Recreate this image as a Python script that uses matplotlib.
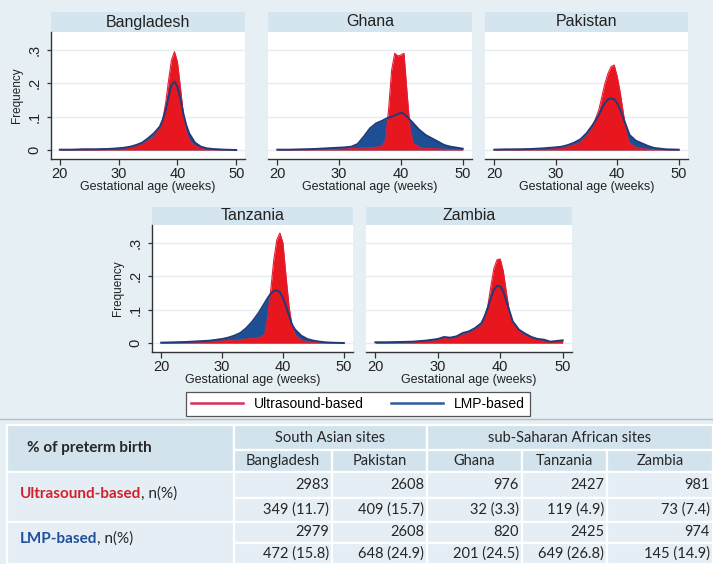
import matplotlib.pyplot as plt
from matplotlib.lines import Line2D
from matplotlib.patches import Rectangle

W, H = 713, 564

# gestational age grid (weeks) and density
weeks = [20, 22, 24, 26, 28, 30, 31, 32, 33, 34, 35, 36, 37, 37.5, 38, 38.5, 39,
         39.5, 40, 40.5, 41, 41.5, 42, 43, 44, 45, 46, 47, 48, 50]

bangladesh_us = [0.001, 0.001, 0.002, 0.002, 0.003, 0.005, 0.006, 0.008, 0.012, 0.018,
                 0.027, 0.04, 0.065, 0.09, 0.14, 0.21, 0.27, 0.295, 0.265, 0.19,
                 0.11, 0.055, 0.03, 0.012, 0.006, 0.003, 0.002, 0.001, 0.001, 0.0]
bangladesh_lmp = [0.001, 0.001, 0.002, 0.002, 0.003, 0.005, 0.007, 0.01, 0.015, 0.022,
                  0.035, 0.05, 0.07, 0.09, 0.12, 0.16, 0.195, 0.205, 0.19, 0.155,
                  0.11, 0.075, 0.05, 0.022, 0.01, 0.005, 0.003, 0.002, 0.001, 0.0]
ghana_us = [0.001, 0.001, 0.001, 0.002, 0.002, 0.003, 0.003, 0.004, 0.005, 0.006,
            0.007, 0.008, 0.012, 0.03, 0.12, 0.24, 0.29, 0.282, 0.285, 0.29,
            0.17, 0.06, 0.02, 0.008, 0.005, 0.004, 0.003, 0.002, 0.001, 0.0]
ghana_lmp = [0.001, 0.001, 0.002, 0.003, 0.005, 0.007, 0.008, 0.01, 0.018, 0.04,
             0.065, 0.08, 0.088, 0.093, 0.097, 0.1, 0.104, 0.108, 0.112, 0.108,
             0.1, 0.09, 0.08, 0.06, 0.045, 0.035, 0.025, 0.015, 0.01, 0.004]
pakistan_us = [0.001, 0.001, 0.002, 0.002, 0.003, 0.005, 0.007, 0.01, 0.015, 0.022,
               0.04, 0.07, 0.12, 0.16, 0.2, 0.23, 0.25, 0.255, 0.22, 0.17,
               0.11, 0.05, 0.02, 0.008, 0.004, 0.002, 0.001, 0.001, 0.001, 0.0]
pakistan_lmp = [0.001, 0.002, 0.002, 0.003, 0.005, 0.008, 0.01, 0.015, 0.022, 0.032,
                0.05, 0.075, 0.105, 0.125, 0.142, 0.152, 0.155, 0.152, 0.14, 0.12,
                0.095, 0.07, 0.045, 0.028, 0.02, 0.012, 0.006, 0.004, 0.002, 0.001]
tanzania_us = [0.001, 0.001, 0.002, 0.003, 0.004, 0.006, 0.007, 0.008, 0.01, 0.012,
               0.014, 0.016, 0.025, 0.08, 0.16, 0.25, 0.31, 0.33, 0.3, 0.2,
               0.11, 0.05, 0.025, 0.008, 0.004, 0.002, 0.001, 0.001, 0.001, 0.0]
tanzania_lmp = [0.001, 0.002, 0.003, 0.005, 0.007, 0.012, 0.016, 0.022, 0.03, 0.045,
                0.065, 0.09, 0.12, 0.135, 0.148, 0.156, 0.158, 0.152, 0.135, 0.11,
                0.082, 0.055, 0.04, 0.022, 0.012, 0.007, 0.004, 0.002, 0.001, 0.0]
zambia_us = [0.002, 0.002, 0.003, 0.004, 0.006, 0.01, 0.014, 0.014, 0.018, 0.025,
             0.03, 0.04, 0.055, 0.075, 0.11, 0.17, 0.225, 0.25, 0.252, 0.215,
             0.15, 0.09, 0.06, 0.035, 0.022, 0.016, 0.012, 0.009, 0.004, 0.006]
zambia_lmp = [0.002, 0.002, 0.003, 0.004, 0.007, 0.012, 0.018, 0.016, 0.02, 0.03,
              0.035, 0.045, 0.06, 0.08, 0.105, 0.135, 0.16, 0.172, 0.17, 0.155,
              0.125, 0.095, 0.065, 0.04, 0.028, 0.018, 0.012, 0.01, 0.004, 0.008]

# table values
sites = ['Bangladesh', 'Pakistan', 'Ghana', 'Tanzania', 'Zambia']
us_total = [2983, 2608, 976, 2427, 981]
us_preterm = [349, 409, 32, 119, 73]
us_pct = [11.7, 15.7, 3.3, 4.9, 7.4]
lmp_total = [2979, 2608, 820, 2425, 974]
lmp_preterm = [472, 648, 201, 649, 145]
lmp_pct = [15.8, 24.9, 24.5, 26.8, 14.9]

BG = '#e6eff4'
STRIP = '#d5e5ef'
RED = '#e8161f'
BLUE = '#1c4f94'
LINE_BLUE = '#1d3c78'

plt.rcParams['font.family'] = ['Liberation Sans', 'DejaVu Sans']

fig = plt.figure(figsize=(W / 100, H / 100), dpi=100, facecolor=BG)


def px_axes(left, top, right, bottom, **kw):
    return fig.add_axes([left / W, 1 - bottom / H, (right - left) / W, (bottom - top) / H], **kw)


# (name, us, lmp, left, right, strip top, plot top, plot bottom, show y axis)
panels = [
    ('Bangladesh', bangladesh_us, bangladesh_lmp, 51, 245, 12, 32, 159, True),
    ('Ghana', ghana_us, ghana_lmp, 268, 472, 12, 32, 159, False),
    ('Pakistan', pakistan_us, pakistan_lmp, 485, 688, 12, 32, 159, False),
    ('Tanzania', tanzania_us, tanzania_lmp, 152, 353, 207, 225, 352, True),
    ('Zambia', zambia_us, zambia_lmp, 366, 572, 207, 225, 352, False),
]

for name, us, lmp, left, right, stop, ptop, pbot, yaxis in panels:
    strip = px_axes(left, stop, right, ptop)
    strip.set_facecolor(STRIP)
    strip.set_xticks([])
    strip.set_yticks([])
    for s in strip.spines.values():
        s.set_visible(False)
    strip.text(0.5, 0.5, name, ha='center', va='center', fontsize=11.5, color='#222222',
               transform=strip.transAxes)

    ax = px_axes(left, ptop, right, pbot)
    ax.set_facecolor('white')
    ax.fill_between(weeks, 0, lmp, color=BLUE, lw=0, zorder=2)
    ax.fill_between(weeks, 0, us, color=RED, lw=0, zorder=3)
    ax.plot(weeks, us, color='#e0203a', lw=0.8, zorder=3)
    ax.plot(weeks, lmp, color=LINE_BLUE, lw=1.4, zorder=4)
    ax.set_xlim(18.5, 51.5)
    ax.set_ylim(-0.027, 0.354)
    ax.set_xticks([20, 30, 40, 50])
    ax.set_yticks([0, 0.1, 0.2, 0.3])
    ax.grid(axis='y', color='#e4edf2', lw=1.0, zorder=0)
    ax.set_axisbelow(True)
    for s in ['top', 'right']:
        ax.spines[s].set_visible(False)
    ax.spines['bottom'].set_color('#333333')
    ax.spines['bottom'].set_linewidth(1.0)
    ax.tick_params(axis='x', length=4, width=0.9, color='#333333', labelsize=10.5,
                   pad=1.5, labelcolor='#222222')
    ax.set_xlabel('Gestational age (weeks)', fontsize=9, color='#222222', labelpad=0)
    if yaxis:
        ax.spines['left'].set_color('#333333')
        ax.spines['left'].set_linewidth(1.0)
        ax.set_yticklabels(['0', '.1', '.2', '.3'], rotation=90, va='center')
        ax.tick_params(axis='y', length=3, width=0.9, color='#333333', labelsize=10.5,
                       pad=4, labelcolor='#222222')
        ax.set_ylabel('Frequency', fontsize=8.5, color='#222222', labelpad=3)
    else:
        ax.spines['left'].set_visible(False)
        ax.tick_params(axis='y', length=0, labelleft=False)

# legend
handles = [Line2D([], [], color='#dc2f55', lw=1.8), Line2D([], [], color='#2c5c9a', lw=1.8)]
leg = fig.legend(handles, ['Ultrasound-based', 'LMP-based'], loc='center',
                 bbox_to_anchor=(358 / W, 1 - 404 / H), ncol=2, fontsize=10,
                 frameon=True, fancybox=False, edgecolor='#555555', framealpha=1,
                 handlelength=3.7, handletextpad=0.8, columnspacing=2.0,
                 borderpad=0.35)
leg.get_frame().set_linewidth(0.9)

# table
tab = px_axes(0, 417, W, H)
tab.set_xlim(0, W)
tab.set_ylim(H, 417)
tab.axis('off')
tab.axhline(419, color='#b4bfc6', lw=1.0)

cols = [7, 234, 332, 427, 522, 607, 713]
rows = [425, 450, 472, 498, 522, 543, 564]
HEAD = '#d2e3ee'
BODY = '#e5eef5'
TFONT = ['Lato', 'DejaVu Sans']
TXT = '#262626'


def cell(x0, x1, y0, y1, color):
    tab.add_patch(Rectangle((x0, y0), x1 - x0, y1 - y0, facecolor=color,
                            edgecolor='white', lw=1.6))


cell(cols[0], cols[1], rows[0], rows[2], HEAD)
cell(cols[1], cols[3], rows[0], rows[1], HEAD)
cell(cols[3], cols[6], rows[0], rows[1], HEAD)
for i in range(5):
    cell(cols[i + 1], cols[i + 2], rows[1], rows[2], HEAD)
cell(cols[0], cols[1], rows[2], rows[4], BODY)
cell(cols[0], cols[1], rows[4], rows[6], BODY)
for r in range(2, 6):
    for i in range(5):
        cell(cols[i + 1], cols[i + 2], rows[r], rows[r + 1], BODY)

tab.text(27, 448, '% of preterm birth', fontsize=11, fontweight='bold', color=TXT,
         family=TFONT, va='center')
tab.text((cols[1] + cols[3]) / 2, (rows[0] + rows[1]) / 2, 'South Asian sites',
         fontsize=10.5, color=TXT, family=TFONT, ha='center', va='center')
tab.text((cols[3] + cols[6]) / 2, (rows[0] + rows[1]) / 2, 'sub-Saharan African sites',
         fontsize=10.5, color=TXT, family=TFONT, ha='center', va='center')
for i, s in enumerate(sites):
    tab.text((cols[i + 1] + cols[i + 2]) / 2, (rows[1] + rows[2]) / 2, s, fontsize=10.5,
             color=TXT, family=TFONT, ha='center', va='center')

t1 = tab.text(20, (rows[2] + rows[4]) / 2 - 3, 'Ultrasound-based', fontsize=11,
              fontweight='bold', color='#d4202c', family=TFONT, va='center')
tab.annotate(', n(%)', xy=(1, 0.5), xycoords=t1, fontsize=11, color=TXT,
             family=TFONT, va='center', ha='left')
t2 = tab.text(20, (rows[4] + rows[6]) / 2 - 4, 'LMP-based', fontsize=11,
              fontweight='bold', color='#1f4e9a', family=TFONT, va='center')
tab.annotate(', n(%)', xy=(1, 0.5), xycoords=t2, fontsize=11, color=TXT,
             family=TFONT, va='center', ha='left')

body = [
    [str(v) for v in us_total],
    [f'{n} ({p})' for n, p in zip(us_preterm, us_pct)],
    [str(v) for v in lmp_total],
    [f'{n} ({p})' for n, p in zip(lmp_preterm, lmp_pct)],
]
for r, vals in enumerate(body):
    yc = (rows[r + 2] + rows[r + 3]) / 2
    for i, v in enumerate(vals):
        tab.text(cols[i + 2] - 3, yc, v, fontsize=10.5, color=TXT, family=TFONT,
                 ha='right', va='center')

fig.savefig('out.png', dpi=100, facecolor=BG)
